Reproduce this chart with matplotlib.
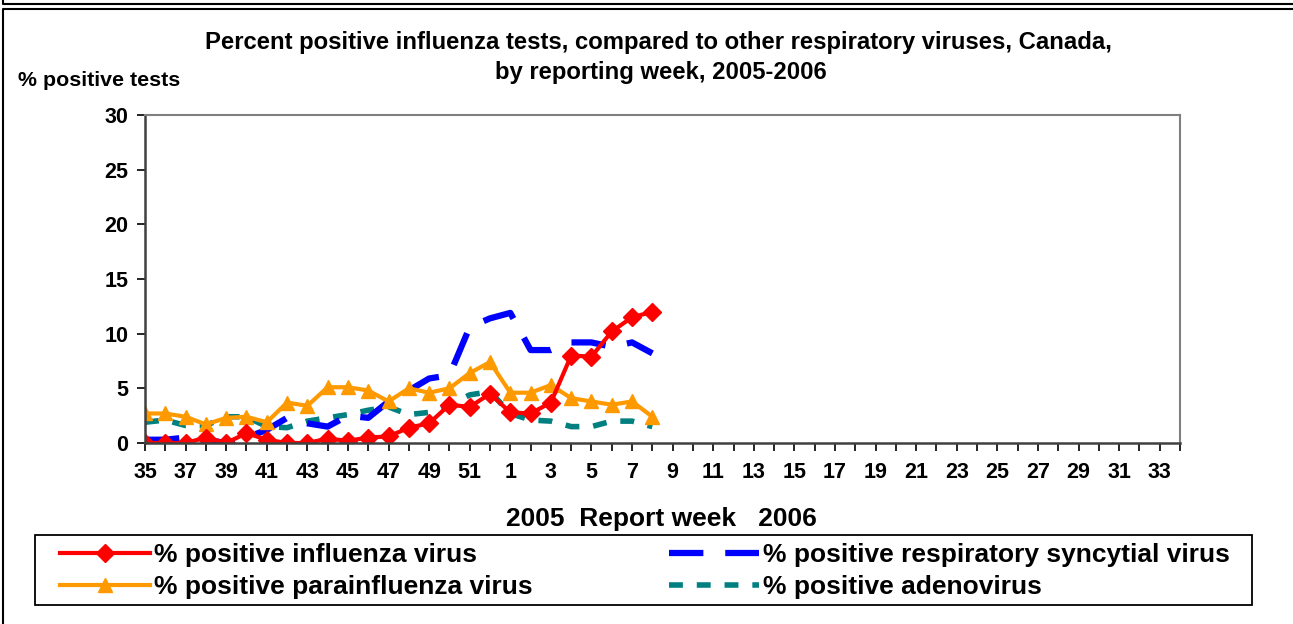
import matplotlib.pyplot as plt
import numpy as np
from matplotlib.patches import Rectangle
from matplotlib.lines import Line2D

plt.rcParams['font.family'] = ['Liberation Sans', 'DejaVu Sans']
plt.rcParams['font.weight'] = 'bold'

# report weeks 35..52 of 2005 then 1..34 of 2006
weeks = list(range(35, 53)) + list(range(1, 35))
tick_labels = [str(w) if i % 2 == 0 else '' for i, w in enumerate(weeks)]

# data up to week 8 of 2006
influenza = [0.0, 0.0, 0.0, 0.5, 0.0, 0.9, 0.3, 0.0, 0.0, 0.4, 0.2, 0.5, 0.6,
             1.4, 1.8, 3.5, 3.3, 4.5, 2.8, 2.7, 3.7, 8.0, 7.9, 10.2, 11.5, 12.0]
rsv = [0.3, 0.3, 0.5, 0.3, 0.0, 0.5, 1.2, 2.3, 1.8, 1.5, 2.5, 2.3, 3.8,
       4.8, 5.9, 6.2, 10.6, 11.4, 11.9, 8.5, 8.5, 9.2, 9.2, 8.8, 9.2, 8.2]
parainfluenza = [2.7, 2.7, 2.4, 1.7, 2.3, 2.4, 1.9, 3.7, 3.4, 5.1, 5.1, 4.8, 3.8,
                 5.0, 4.6, 5.0, 6.4, 7.4, 4.6, 4.6, 5.3, 4.1, 3.8, 3.5, 3.8, 2.4]
adenovirus = [1.9, 2.1, 1.6, 1.6, 2.4, 2.4, 1.5, 1.4, 2.0, 2.3, 2.6, 3.0, 3.3,
              2.6, 2.8, 3.5, 4.4, 4.7, 2.7, 2.1, 2.0, 1.5, 1.5, 2.0, 2.0, 1.5]

x_all = np.arange(len(weeks))
x = np.arange(len(influenza))

W, H = 1293, 624
fig = plt.figure(figsize=(W / 100, H / 100), dpi=100)
ax = fig.add_axes([145 / W, 1 - 443 / H, 1035 / W, 328 / H])

l_ad, = ax.plot(x, adenovirus, color='#008080', lw=4, dashes=(2.5, 2.5),
                label='% positive adenovirus')
l_rsv, = ax.plot(x, rsv, color='#0000FF', lw=4.5, dashes=(5.5, 3.5),
                 label='% positive respiratory syncytial virus')
l_para, = ax.plot(x, parainfluenza, color='#FF9900', lw=3, marker='^', ms=10,
                  label='% positive parainfluenza virus')
l_flu, = ax.plot(x, influenza, color='#FF0000', lw=3, marker='D', ms=9,
                 label='% positive influenza virus')

ax.set_xlim(0, len(weeks) - 1)
ax.set_ylim(0, 30)
ax.set_yticks(np.arange(0, 31, 5))
ax.set_xticks(x_all)
ax.set_xticklabels(tick_labels)
ax.tick_params(axis='both', direction='out', labelsize=15.5, length=6, width=1.2)
ax.tick_params(axis='x', pad=8)
ax.tick_params(axis='y', pad=6)
for lbl in ax.get_xticklabels() + ax.get_yticklabels():
    lbl.set_fontweight('bold')
for s in ['top', 'right']:
    ax.spines[s].set_color('#808080')
    ax.spines[s].set_linewidth(1.5)
for s in ['left', 'bottom']:
    ax.spines[s].set_color('#404040')
    ax.spines[s].set_linewidth(1.8)

fig.text(661 / W, 1 - 519 / H, '2005  Report week   2006', ha='center', va='center',
         fontsize=19, fontweight='bold')
fig.text(658 / W, 1 - 42 / H,
         'Percent positive influenza tests, compared to other respiratory viruses, Canada,',
         ha='center', va='center', fontsize=17.2, fontweight='bold')
fig.text(661 / W, 1 - 72 / H, 'by reporting week, 2005-2006',
         ha='center', va='center', fontsize=17.2, fontweight='bold')
fig.text(18 / W, 1 - 80 / H, '% positive tests', ha='left', va='center',
         fontsize=15.4, fontweight='bold')

leg = fig.legend(handles=[l_flu, l_para, l_rsv, l_ad], ncol=2,
                 loc='center', bbox_to_anchor=(60 / W, 1 - 605 / H, 1170 / W, 68 / H),
                 mode='expand', fontsize=19, frameon=False,
                 handlelength=3.4, handletextpad=0.15, borderpad=0,
                 borderaxespad=0, labelspacing=0.3, columnspacing=1.0)
for t in leg.get_texts():
    t.set_fontweight('bold')

# legend frame
fig.patches.append(Rectangle((35 / W, 1 - 605 / H), 1217 / W, 70 / H,
                             transform=fig.transFigure, fill=False,
                             edgecolor='black', lw=1.3))

# outer chart frames
fig.lines.append(Line2D([3 / W, 3 / W, 1.0], [1.0, 1 - 4 / H, 1 - 4 / H],
                        transform=fig.transFigure, color='black', lw=1.5))
fig.lines.append(Line2D([3 / W, 3 / W, 1.0], [0.0, 1 - 9 / H, 1 - 9 / H],
                        transform=fig.transFigure, color='black', lw=1.5))

fig.savefig('out.png', dpi=100)
